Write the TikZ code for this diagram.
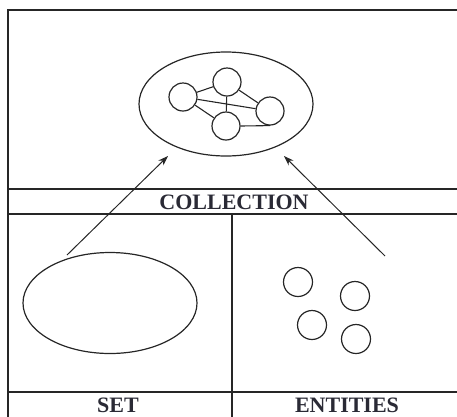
\documentclass[tikz,border=0pt]{standalone}
\usepackage{fontspec}
\setmainfont{Liberation Serif}
\usetikzlibrary{shapes.geometric,arrows.meta}
\definecolor{txt}{HTML}{2A2A35}
\tikzset{
  rule/.style={line width=1.4pt, draw=black!85},
  frame/.style={line width=2.8pt, draw=black!85},
  blob/.style={circle, draw=black!85, line width=1.2pt, minimum size=28pt, inner sep=0pt},
  oval/.style={ellipse, draw=black!85, line width=1.2pt, inner sep=0pt},
  link/.style={draw=black!85, line width=1.1pt},
  arr/.style={draw=black!85, line width=1pt, -{Stealth[length=10pt,width=7pt]}},
  lab/.style={font=\bfseries\fontsize{22pt}{24pt}\selectfont, text=txt, inner sep=0pt}
}
\begin{document}
\begin{tikzpicture}[x=1pt,y=-1pt]
\useasboundingbox (0,0) rectangle (457,416);
% frame
\draw[frame] (8,430) -- (8,10) -- (470,10);
\draw[rule] (8,189) -- (470,189);
\draw[rule] (8,214) -- (470,214);
\draw[rule] (232,214) -- (232,430);
\draw[rule] (8,392) -- (470,392);
% labels
\node[lab] (lcoll) at (234,202) {COLLECTION};
\node[lab] (lset) at (118,405) {SET};
\node[lab] (lent) at (347,405) {ENTITIES};
% collection
\node[oval, minimum width=174pt, minimum height=104pt] (coll) at (226,104) {};
\node[blob] (A) at (183,97) {};
\node[blob] (B) at (227,82) {};
\node[blob] (C) at (270,111) {};
\node[blob] (D) at (226,126) {};
\draw[link] (A) -- (B);
\draw[link] (A) -- (C);
\draw[link] (B) -- (C);
\draw[link] (B) -- (D);
\draw[link] (A) -- (D);
\draw[link] (D.east) -- (C.south);
% set
\node[oval, minimum width=174pt, minimum height=101pt] (set) at (110,303) {};
% entities
\node[blob, minimum size=29pt] (e1) at (298,282) {};
\node[blob, minimum size=29pt] (e2) at (355,296) {};
\node[blob, minimum size=29pt] (e3) at (312,325) {};
\node[blob, minimum size=29pt] (e4) at (356,339) {};
% arrows
\coordinate (s1) at (67,255);
\coordinate (t1) at (168,156);
\coordinate (s2) at (385,256);
\coordinate (t2) at (284,156);
\draw[arr] (s1) -- (t1);
\draw[arr] (s2) -- (t2);
\end{tikzpicture}
\end{document}
